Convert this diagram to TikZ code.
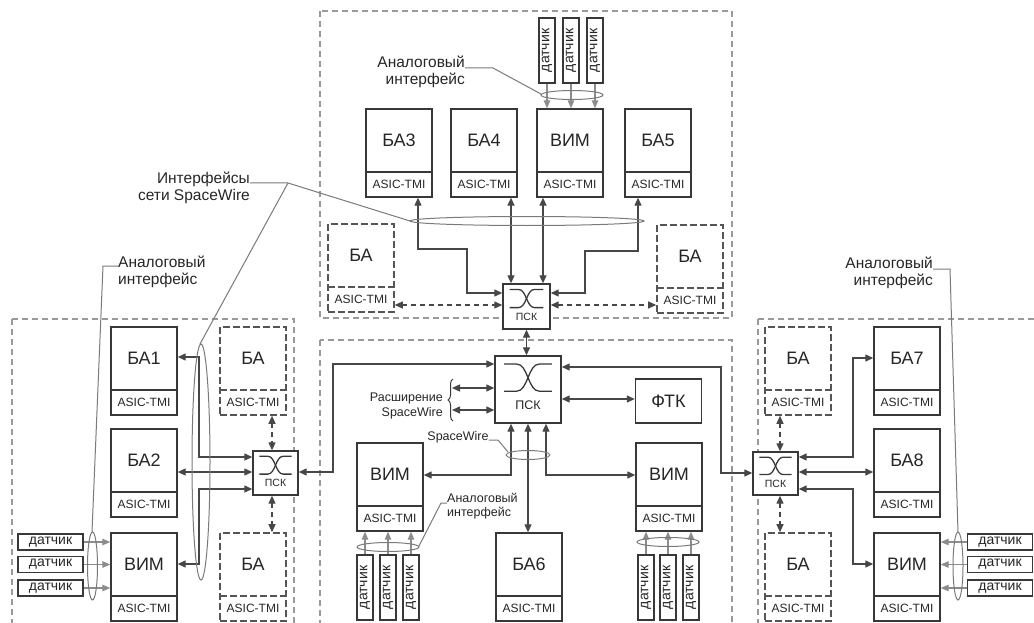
\documentclass[tikz,border=0pt]{standalone}
\usepackage{fontspec}
\setmainfont{Liberation Sans}
\usetikzlibrary{arrows.meta,decorations.pathreplacing}

\definecolor{ink}{HTML}{383838}
\definecolor{wire}{HTML}{474747}
\definecolor{framec}{HTML}{9A9A9A}
\definecolor{sparec}{HTML}{555555}
\definecolor{feed}{HTML}{8C8C8C}
\definecolor{lead}{HTML}{7A7A7A}
\definecolor{txt}{HTML}{262626}

\tikzset{
  >={Triangle[length=8pt,width=7pt]},
  blk/.style={draw=ink, line width=1.4pt, minimum width=66pt, minimum height=88pt, inner sep=0pt},
  spare/.style={draw=sparec, line width=1.6pt, dash pattern=on 7pt off 3pt, minimum width=66pt, minimum height=88pt, inner sep=0pt},
  lbl/.style={font=\fontsize{18}{21}\selectfont, text=txt, inner sep=0pt},
  chip/.style={font=\fontsize{12}{14}\selectfont, text=txt, inner sep=0pt},
  senh/.style={draw=ink, line width=1.2pt, minimum width=65pt, minimum height=16pt, inner sep=0pt, font=\fontsize{14}{15}\selectfont, text=txt},
  senv/.style={draw=ink, line width=1.2pt, minimum width=16pt, minimum height=65pt, inner sep=0pt, font=\fontsize{14}{15}\selectfont, text=txt},
  swbox/.style={draw=ink, line width=1.4pt, fill=white, inner sep=0pt},
  swsym/.style={draw=ink, line width=1.3pt},
  swsmall/.style={font=\fontsize{10.5}{12}\selectfont, text=txt, inner sep=0pt},
  swbig/.style={font=\fontsize{12.5}{15}\selectfont, text=txt, inner sep=0pt},
  encl/.style={draw=framec, line width=1.3pt, dash pattern=on 6pt off 4pt},
  link/.style={draw=wire, line width=1.3pt, <->},
  sparelink/.style={draw=wire, line width=1.3pt, <->, dash pattern=on 5pt off 4pt},
  feedlink/.style={draw=feed, line width=1.2pt, -{Triangle[length=8pt,width=6.5pt]}},
  bundle/.style={draw=lead, line width=1pt},
  leader/.style={draw=lead, line width=1pt},
  note/.style={font=\fontsize{15.5}{17}\selectfont, text=txt, inner sep=0pt},
  smallnote/.style={font=\fontsize{12.5}{14.5}\selectfont, text=txt, inner sep=0pt},
}

% block with a name field and an ASIC-TMI field: style, name, left, top, label
\newcommand\unitbox[5][blk]{%
  \node[#1] (#2) at (#3+33,#4+44) {};
  \node[lbl] (#2-t) at (#3+33,#4+31.5) {#5};
  \draw[#1] (#3,#4+63) -- (#3+66,#4+63);
  \node[chip] (#2-c) at (#3+33,#4+75.5) {ASIC-TMI};
}

% router: name, cx, cy, width, height, half width, half height, text style
\newcommand\router[8]{%
  \node[swbox, minimum width=#4pt, minimum height=#5pt] (#1) at (#2,#3) {};
  \begin{scope}[shift={(#1.center)}, x=#6pt, y=-#7pt]
    \draw[swsym] (-0.72,-0.76) -- (-0.34,-0.76) .. controls (0,-0.76) and (0,0.05) .. (0.34,0.05) -- (0.72,0.05);
    \draw[swsym] (-0.72,0.05) -- (-0.34,0.05) .. controls (0,0.05) and (0,-0.76) .. (0.34,-0.76) -- (0.72,-0.76);
    \node[#8] at (0,0.47) {ПСК};
  \end{scope}
}

\begin{document}
\begin{tikzpicture}[x=1pt,y=-1pt]
\clip (0,0) rectangle (1034,623);
\fill[white] (0,0) rectangle (1034,623);

% enclosures
\draw[encl] (320,11) rectangle (732,318);
\draw[encl] (12,319) rectangle (294,640);
\draw[encl] (320,340) rectangle (732,640);
\draw[encl] (758,319) rectangle (1045,640);

% ---------- upper segment ----------
\unitbox{B3}{366}{109}{БА3}
\unitbox{B4}{451}{109}{БА4}
\unitbox{VT}{537}{109}{ВИМ}
\unitbox{B5}{625}{109}{БА5}
\unitbox[spare]{XTL}{328}{224}{БА}
\unitbox[spare]{XTR}{657}{225}{БА}
\router{PT}{526.5}{306.5}{47}{45}{23.5}{22.5}{swsmall}

\node[senv] (ST1) at (547,50.5) {\rotatebox{90}{датчик}};
\node[senv] (ST2) at (571,50.5) {\rotatebox{90}{датчик}};
\node[senv] (ST3) at (595,50.5) {\rotatebox{90}{датчик}};
\foreach \s in {ST1,ST2,ST3}
  \draw[feedlink] (\s.south) -- (VT.north -| \s.south);

\draw[link] (B3.south -| 418,0) -- (418,249) -- (467,249) -- (467,293) -- (PT.west |- 0,293);
\draw[link] (B4.south -| 511,0) -- (PT.north -| 511,0);
\draw[link] (VT.south -| 543,0) -- (PT.north -| 543,0);
\draw[link] (B5.south -| 638,0) -- (638,251) -- (585,251) -- (585,293) -- (PT.east |- 0,293);
\draw[sparelink] (XTL.east |- 0,305) -- (PT.west |- 0,305);
\draw[sparelink] (PT.east |- 0,305) -- (XTR.west |- 0,305);

% ---------- left segment ----------
\unitbox{B1}{111}{327}{БА1}
\unitbox{B2}{111}{429}{БА2}
\unitbox{VL}{111}{533}{ВИМ}
\unitbox[spare]{XL1}{220}{327}{БА}
\unitbox[spare]{XL2}{220}{533}{БА}
\router{PL}{275.5}{473}{45}{44}{22.5}{22}{swsmall}

\node[senh] (SL1) at (50.5,542) {датчик};
\node[senh] (SL2) at (50.5,564.5) {датчик};
\node[senh] (SL3) at (50.5,588) {датчик};
\foreach \s in {SL1,SL2,SL3}
  \draw[feedlink] (\s.east) -- (VL.west |- \s.east);

\draw[link] (B1.east |- 0,357) -- (199,357) -- (199,457) -- (PL.west |- 0,457);
\draw[link] (B2.east |- 0,472) -- (PL.west |- 0,472);
\draw[link] (VL.east |- 0,564) -- (199,564) -- (199,489) -- (PL.west |- 0,489);
\draw[sparelink] (XL1.south -| 272,0) -- (PL.north -| 272,0);
\draw[sparelink] (PL.south -| 272,0) -- (XL2.north -| 272,0);

% ---------- central segment ----------
\router{PM}{528}{389.5}{66}{67}{33}{33.5}{swbig}
\node[draw=ink, line width=1.4pt, minimum width=66pt, minimum height=44pt, inner sep=0pt, lbl] (FTK) at (668.5,401) {ФТК};
\unitbox{VM1}{357}{443}{ВИМ}
\unitbox{VM2}{636}{443}{ВИМ}
\unitbox{B6}{496}{533}{БА6}

\node[senv] (SM1) at (365,587.5) {\rotatebox{90}{датчик}};
\node[senv] (SM2) at (388,587.5) {\rotatebox{90}{датчик}};
\node[senv] (SM3) at (411,587.5) {\rotatebox{90}{датчик}};
\node[senv] (SN1) at (646,587.5) {\rotatebox{90}{датчик}};
\node[senv] (SN2) at (668,587.5) {\rotatebox{90}{датчик}};
\node[senv] (SN3) at (691,587.5) {\rotatebox{90}{датчик}};
\foreach \s in {SM1,SM2,SM3}
  \draw[feedlink] (\s.north) -- (VM1.south -| \s.north);
\foreach \s in {SN1,SN2,SN3}
  \draw[feedlink] (\s.north) -- (VM2.south -| \s.north);

\draw[link] (PT.south) -- (PT.south |- PM.north);
\draw[link] (PM.east |- 0,399) -- (FTK.west |- 0,399);
\coordinate (E1) at (452,388);
\coordinate (E2) at (452,410);
\draw[link] (E1) -- (PM.west |- E1);
\draw[link] (E2) -- (PM.west |- E2);
\draw[link] (PM.south -| 511,0) -- (511,475) -- (VM1.east |- 0,475);
\draw[link] (PM.south -| 528,0) -- (B6.north -| 528,0);
\draw[link] (PM.south -| 546,0) -- (546,475) -- (VM2.west |- 0,475);

% ---------- right segment ----------
\unitbox[spare]{XR1}{765}{327}{БА}
\unitbox[spare]{XR2}{765}{533}{БА}
\unitbox{B7}{874}{327}{БА7}
\unitbox{B8}{874}{429}{БА8}
\unitbox{VR}{874}{533}{ВИМ}
\router{PR}{775.5}{473.5}{45}{43}{22.5}{21.5}{swsmall}

\node[senh] (SR1) at (1000,542) {датчик};
\node[senh] (SR2) at (1000,564.5) {датчик};
\node[senh] (SR3) at (1000,588) {датчик};
\foreach \s in {SR1,SR2,SR3}
  \draw[feedlink] (\s.west) -- (VR.east |- \s.west);

\draw[link] (PR.east |- 0,457) -- (853,457) -- (853,358) -- (B7.west |- 0,358);
\draw[link] (PR.east |- 0,472) -- (B8.west |- 0,472);
\draw[link] (PR.east |- 0,489) -- (853,489) -- (853,564) -- (VR.west |- 0,564);
\draw[sparelink] (XR1.south -| 780,0) -- (PR.north -| 780,0);
\draw[sparelink] (PR.south -| 780,0) -- (XR2.north -| 780,0);

% ---------- links between segments ----------
\draw[link] (PL.east |- 0,472) -- (333,472) -- (333,364) -- (PM.west |- 0,364);
\draw[link] (PM.east |- 0,367) -- (721,367) -- (721,473) -- (PR.west |- 0,473);

% ---------- bundles ----------
\draw[bundle] (572,95) ellipse [x radius=31pt, y radius=4.5pt];
\draw[bundle] (527,221) ellipse [x radius=117pt, y radius=4.5pt];
\draw[bundle] (92.5,566) ellipse [x radius=5pt, y radius=34pt];
\draw[bundle] (201,462) ellipse [x radius=9pt, y radius=118pt];
\draw[bundle] (528,455) ellipse [x radius=22pt, y radius=4.5pt];
\draw[bundle] (388,547) ellipse [x radius=31pt, y radius=4.5pt];
\draw[bundle] (668,542) ellipse [x radius=31pt, y radius=4.5pt];
\draw[bundle] (958,566) ellipse [x radius=5pt, y radius=34pt];

% ---------- captions ----------
\node[note, align=right, anchor=east] (AT) at (465,72) {Аналоговый\\интерфейс};
\draw[leader] (AT.east |- 0,68) -- (493,68) -- (541,94);

\node[note, align=right, anchor=east] (IF) at (250,188) {Интерфейсы\\сети SpaceWire};
\coordinate (IFk) at (288,183);
\draw[leader] (IF.east |- IFk) -- (IFk) -- (410,221);
\draw[leader] (IFk) -- (200,344);

\node[note, align=left, anchor=west] (AL) at (118,272) {Аналоговый\\интерфейс};
\draw[leader] (AL.west |- 0,266) -- (103,266) -- (92,532);

\node[note, align=right, anchor=east] (AR) at (933,273) {Аналоговый\\интерфейс};
\draw[leader] (AR.east |- 0,269) -- (950,269) -- (958,532);

\node[smallnote, align=left, anchor=west] (AM) at (447,506) {Аналоговый\\интерфейс};
\draw[leader] (AM.west |- 0,503) -- (441,503) -- (419,546);

\node[smallnote] (SW) at (458,437) {SpaceWire};
\draw[leader] (SW.east |- 0,440) -- (498,440) -- (508,452);

\draw[ink, line width=1pt, decorate, decoration={brace, amplitude=5pt}] (453,421) -- (453,379);
\node[smallnote, align=right, anchor=east] (RS) at (443,406) {Расширение\\SpaceWire};

\end{tikzpicture}
\end{document}
